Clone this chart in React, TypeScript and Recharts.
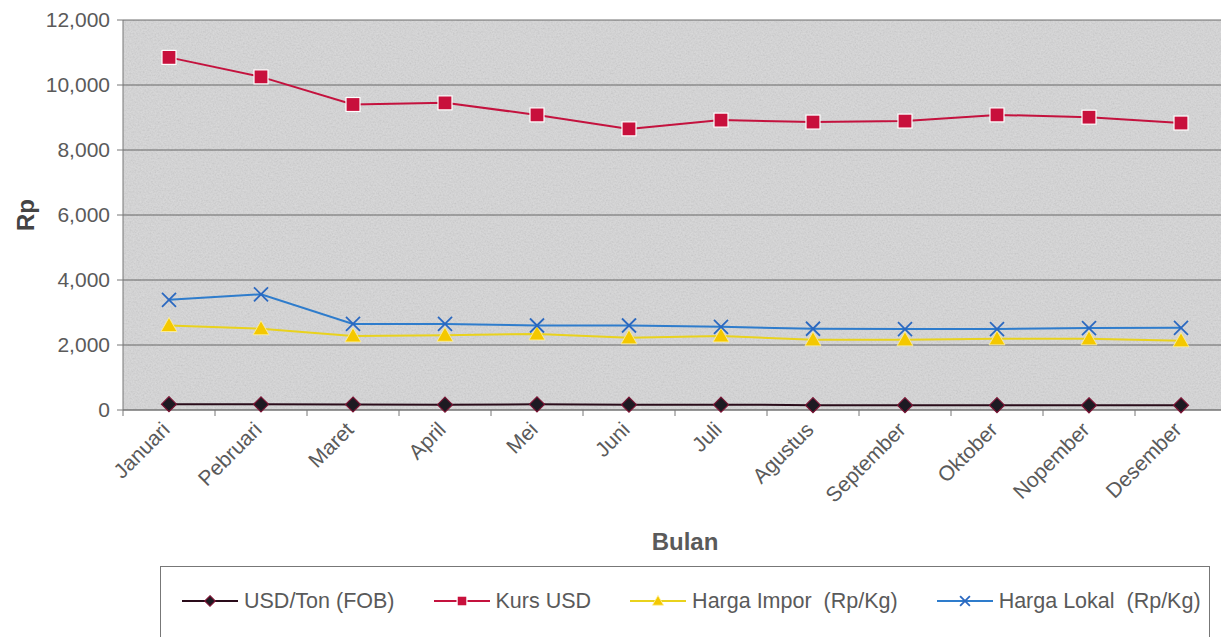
import { CartesianGrid, Legend, Line, LineChart, XAxis, YAxis } from "recharts";

const MONTHS = [
  "Januari", "Pebruari", "Maret", "April", "Mei", "Juni",
  "Juli", "Agustus", "September", "Oktober", "Nopember", "Desember",
];
const USD_TON = [180, 175, 170, 165, 175, 165, 165, 150, 150, 150, 145, 145];
const KURS_USD = [10850, 10250, 9400, 9450, 9080, 8650, 8920, 8860, 8890, 9080, 9010, 8830];
const HARGA_IMPOR = [2600, 2500, 2280, 2300, 2340, 2220, 2280, 2160, 2160, 2190, 2190, 2130];
const HARGA_LOKAL = [3390, 3560, 2650, 2650, 2600, 2600, 2560, 2500, 2490, 2490, 2520, 2530];
const Y_TICKS = [0, 2000, 4000, 6000, 8000, 10000, 12000];

const data = MONTHS.map((bulan, i) => ({
  bulan,
  fob: USD_TON[i],
  kurs: KURS_USD[i],
  impor: HARGA_IMPOR[i],
  lokal: HARGA_LOKAL[i],
}));

const FONT = '"Liberation Sans", Arial, sans-serif';
const TEXT = "#5a5a5a";
const AXIS_COLOR = "#777";

// plot runs a little past the right edge of the window, like the scan
const CHART_W = 1240;
const CHART_H = 637;
const Y_AXIS_W = 123;
const RIGHT = 13;
const PLOT_W = CHART_W - Y_AXIS_W - RIGHT;
const HALF_STEP = PLOT_W / 24;

const COLORS = {
  fob: "#2a0c1a",
  kurs: "#c4123e",
  impor: "#e9d21c",
  lokal: "#2e7ccc",
};

type DotProps = { cx?: number; cy?: number; s?: number };

function Diamond({ cx = 0, cy = 0, s = 1 }: DotProps) {
  const r = 7.5 * s;
  return (
    <polygon
      points={`${cx},${cy - r} ${cx + r},${cy} ${cx},${cy + r} ${cx - r},${cy}`}
      fill="#1d1a22"
      stroke="#7a1434"
      strokeWidth={1.2}
    />
  );
}

function Square({ cx = 0, cy = 0, s = 1 }: DotProps) {
  const r = 7 * s;
  return <rect x={cx - r} y={cy - r} width={2 * r} height={2 * r} fill="#c8103c" stroke="#fff" strokeWidth={1.2} />;
}

function Triangle({ cx = 0, cy = 0, s = 1 }: DotProps) {
  return (
    <polygon
      points={`${cx},${cy - 8 * s} ${cx + 8 * s},${cy + 6 * s} ${cx - 8 * s},${cy + 6 * s}`}
      fill="#f4c800"
      stroke="#fff3a0"
      strokeWidth={0.8}
    />
  );
}

function Cross({ cx = 0, cy = 0, s = 1 }: DotProps) {
  const r = 7 * s;
  return (
    <g stroke="#2a68c0" strokeWidth={1.8}>
      <line x1={cx - r} y1={cy - r} x2={cx + r} y2={cy + r} />
      <line x1={cx - r} y1={cy + r} x2={cx + r} y2={cy - r} />
    </g>
  );
}

const SERIES = [
  { key: "fob", name: "USD/Ton (FOB)", color: COLORS.fob, Marker: Diamond },
  { key: "kurs", name: "Kurs USD", color: COLORS.kurs, Marker: Square },
  { key: "impor", name: "Harga Impor  (Rp/Kg)", color: COLORS.impor, Marker: Triangle },
  { key: "lokal", name: "Harga Lokal  (Rp/Kg)", color: COLORS.lokal, Marker: Cross },
];

function MonthTick(props: any) {
  const { x, y, payload, index } = props;
  const last = index === MONTHS.length - 1;
  const tx = x + 2;
  const ty = y + 15;
  return (
    <g>
      <line x1={x - HALF_STEP} y1={y - 6} x2={x - HALF_STEP} y2={y} stroke={AXIS_COLOR} />
      {last && <line x1={x + HALF_STEP} y1={y - 6} x2={x + HALF_STEP} y2={y} stroke={AXIS_COLOR} />}
      <text
        x={tx}
        y={ty}
        textAnchor="end"
        transform={`rotate(-45, ${tx}, ${ty})`}
        fill={TEXT}
        fontSize={21}
        fontFamily={FONT}
      >
        {payload.value}
      </text>
    </g>
  );
}

function LegendBox() {
  return (
    <div
      style={{
        border: `1px solid ${AXIS_COLOR}`,
        height: 90,
        boxSizing: "border-box",
        padding: "21px 0 0 21px",
        display: "flex",
        fontFamily: FONT,
        fontSize: 21.5,
        color: TEXT,
        whiteSpace: "pre",
      }}
    >
      {SERIES.map(({ key, name, color, Marker }) => (
        <div key={key} style={{ display: "flex", alignItems: "center", marginRight: 39, height: 26 }}>
          <svg width={56} height={20} style={{ marginRight: 6 }}>
            <line x1={0} y1={10} x2={56} y2={10} stroke={color} strokeWidth={2} />
            <Marker cx={28} cy={10} s={0.7} />
          </svg>
          <span>{name}</span>
        </div>
      ))}
    </div>
  );
}

export default function App() {
  return (
    <div style={{ position: "absolute", left: 0, top: 0, width: 1221, height: 637, overflow: "hidden", background: "#fff" }}>
      <LineChart width={CHART_W} height={CHART_H} data={data} margin={{ top: 20, right: RIGHT, left: 0, bottom: 0 }}>
        <defs>
          <filter id="speckle" x="0%" y="0%" width="100%" height="100%">
            <feTurbulence type="fractalNoise" baseFrequency="0.6" numOctaves="2" seed="7" />
            <feColorMatrix type="matrix" values="1 0 0 0 0  1 0 0 0 0  1 0 0 0 0  0 0 0 0 0.14" />
          </filter>
          <pattern id="paper" patternUnits="userSpaceOnUse" x={0} y={0} width={CHART_W} height={CHART_H}>
            <rect width={CHART_W} height={CHART_H} fill="#d6d6d7" />
            <rect width={CHART_W} height={CHART_H} filter="url(#speckle)" />
          </pattern>
        </defs>
        <CartesianGrid vertical={false} stroke="#555" strokeOpacity={0.85} fill="url(#paper)" />
        <XAxis
          dataKey="bulan"
          height={CHART_H - 20 - 390}
          padding={{ left: HALF_STEP, right: HALF_STEP }}
          tick={<MonthTick />}
          tickLine={false}
          tickSize={6}
          tickMargin={0}
          interval={0}
          axisLine={{ stroke: AXIS_COLOR }}
          label={{
            value: "Bulan",
            position: "center",
            dx: 10,
            dy: 18,
            fill: TEXT,
            fontSize: 24,
            fontWeight: "bold",
            fontFamily: FONT,
          }}
        />
        <YAxis
          width={Y_AXIS_W}
          domain={[0, 12000]}
          ticks={Y_TICKS}
          interval={0}
          tickFormatter={(v: number) => v.toLocaleString("en-US")}
          tick={{ fill: TEXT, fontSize: 21, fontFamily: FONT }}
          tickSize={6}
          tickMargin={7}
          tickLine={{ stroke: AXIS_COLOR }}
          axisLine={{ stroke: AXIS_COLOR }}
          label={{
            value: "Rp",
            angle: -90,
            position: "center",
            dx: -36,
            fill: "#444",
            fontSize: 24,
            fontWeight: "bold",
            fontFamily: FONT,
          }}
        />
        <Legend
          layout="horizontal"
          verticalAlign="middle"
          align="center"
          wrapperStyle={{ left: 160, top: 566, width: 1050, height: 90 }}
          content={() => <LegendBox />}
        />
        {SERIES.map(({ key, name, color, Marker }) => (
          <Line
            key={key}
            dataKey={key}
            name={name}
            type="linear"
            stroke={color}
            strokeWidth={2}
            dot={(p: any) => <Marker key={`${key}-${p.index}`} cx={p.cx} cy={p.cy} />}
            activeDot={false}
            isAnimationActive={false}
          />
        ))}
      </LineChart>
    </div>
  );
}
